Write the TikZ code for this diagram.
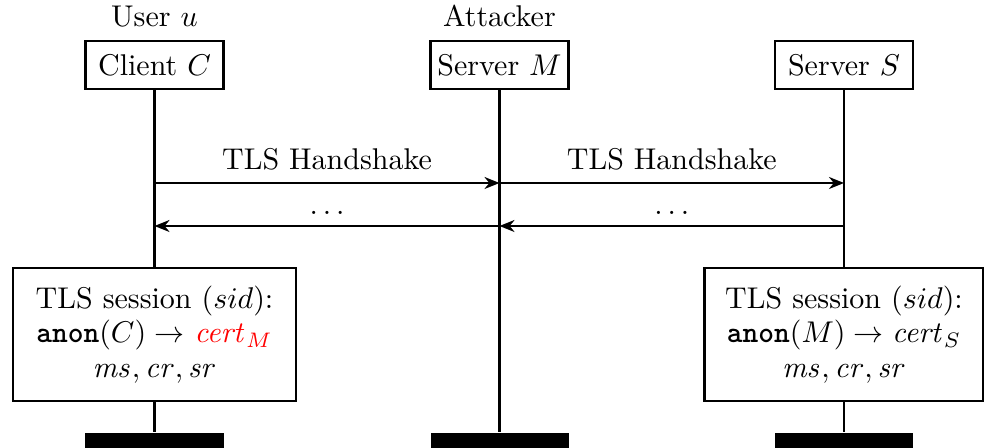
\documentclass[tikz,border=0pt]{standalone}
\usetikzlibrary{arrows.meta}
\begin{document}
\begin{tikzpicture}[x=0.33333pt, y=-0.33333pt,
  every path/.style={line width=0.7pt},
  party/.style={draw, line width=0.7pt, minimum width=46pt, minimum height=16pt, inner sep=0pt},
  session/.style={draw, line width=0.7pt, minimum height=44.3pt, align=center, inner sep=0pt},
  bar/.style={fill=black, draw=none, minimum width=46pt, minimum height=16pt, inner sep=0pt, anchor=north},
  role/.style={anchor=south, inner sep=0pt, yshift=4pt},
  msg/.style={-{Stealth[length=5pt,width=4pt,inset=1.6pt]}},
  lbl/.style={anchor=south, inner sep=0pt}
]
\useasboundingbox (0,0) rectangle (984,448);

% participants
\node[party] (cl) at (154.5,65) {Client $C$};
\node[party] (am) at (499.5,65) {Server $M$};
\node[party] (sv) at (844,65) {Server $S$};
\node[role] (ru) at (cl.north) {User $u$};
\node[role] (ra) at (am.north) {Attacker};

% session state boxes
\node[session, minimum width=94.3pt] (sesC) at (154.5,334.5)
  {TLS session ($sid$):\\[-0.5pt]
   \texttt{\bfseries anon}$(C)\rightarrow$ \textcolor{red}{$\mathit{cert}_M$}\\[-0.5pt]
   $\mathit{ms}, \mathit{cr}, \mathit{sr}$};
\node[session, minimum width=93pt] (sesS) at (844,334.5)
  {TLS session ($sid$):\\[-0.5pt]
   \texttt{\bfseries anon}$(M)\rightarrow \mathit{cert}_S$\\[-0.5pt]
   $\mathit{ms}, \mathit{cr}, \mathit{sr}$};

% lifeline ends
\node[bar] (barC) at (154.5,432) {};
\node[bar] (barM) at (499.5,432) {};
\node[bar] (barS) at (844,432) {};

% lifelines
\draw (cl.south) -- (sesC.north);
\draw (sesC.south) -- (barC.north);
\draw (am.south) -- (barM.north);
\draw (sv.south) -- (sesS.north);
\draw (sesS.south) -- (barS.north);

% message anchors on the lifelines
\coordinate (c1) at (cl.south |- 0,183);
\coordinate (m1) at (am.south |- 0,183);
\coordinate (s1) at (sv.south |- 0,183);
\coordinate (c2) at (cl.south |- 0,226);
\coordinate (m2) at (am.south |- 0,226);
\coordinate (s2) at (sv.south |- 0,226);

% messages
\draw[msg] (c1) -- node[lbl, yshift=3.8pt] {TLS Handshake} (m1);
\draw[msg] (m1) -- node[lbl, yshift=3.8pt] {TLS Handshake} (s1);
\draw[msg] (m2) -- node[lbl, yshift=3.6pt] {$\ldots$} (c2);
\draw[msg] (s2) -- node[lbl, yshift=3.6pt] {$\ldots$} (m2);
\end{tikzpicture}
\end{document}
